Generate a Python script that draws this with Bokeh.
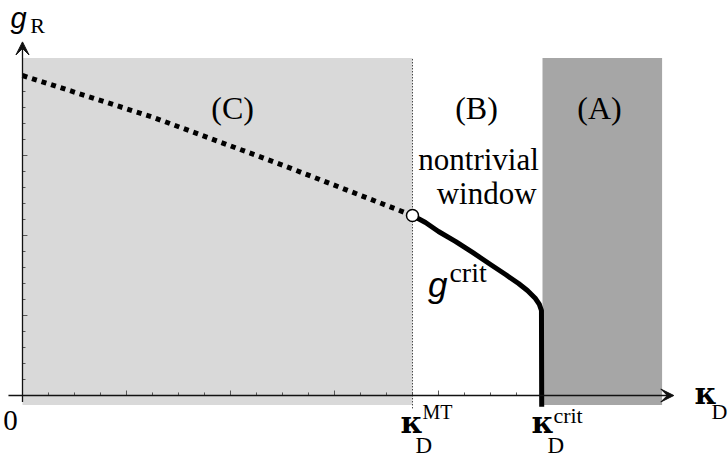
from bokeh.plotting import figure
from bokeh.models import Range1d, Label, Arrow, VeeHead
from bokeh.embed import file_html
from bokeh.resources import INLINE

# ---- data (chart units: x = kappa_D, y = g_R) ----
kappa_MT = 15.0
kappa_crit = 20.0
kappa_A_end = 24.6
region_bottom = -0.6
region_top = 21.1

# dotted (unstable/trivial) branch, region C
dotted_x = [0.0, 5.0, 10.0, 15.0]
dotted_y = [20.0, 17.4, 14.4, 11.25]

# g_crit solid branch, region B, ending in a vertical drop at kappa_crit
crit_x = [15.0, 15.5, 16.0, 16.65, 17.31, 18.0, 18.58, 19.08, 19.42, 19.73, 19.88, 19.96, 19.97]
crit_y = [11.25, 10.81, 10.25, 9.63, 8.94, 8.19, 7.56, 7.0, 6.56, 6.06, 5.69, 5.31, -0.7]

x_minor_ticks = list(range(1, 20))
x_major_every = 4
y_minor_ticks = list(range(1, 21))
y_major_every = 5

p = figure(width=728, height=461,
           x_range=Range1d(-0.846, 27.154), y_range=Range1d(-4.125, 24.6875),
           output_backend="svg", toolbar_location=None, min_border=0,
           x_axis_location=None, y_axis_location=None)
p.grid.visible = False
p.outline_line_color = None
p.background_fill_color = "white"

# shaded regions
p.quad(left=[0.0], right=[kappa_MT], bottom=[region_bottom], top=[region_top],
       fill_color="#d9d9d9", line_color=None)
p.quad(left=[kappa_crit], right=[kappa_A_end], bottom=[region_bottom], top=[region_top],
       fill_color="#a6a6a6", line_color=None)

# kappa_MT dotted vertical line
p.segment(x0=[kappa_MT], y0=[-0.8], x1=[kappa_MT], y1=[region_top],
          line_color="black", line_width=1, line_dash="1 2")

# ticks
xt_len = [0.31 if t % x_major_every == 0 else 0.19 for t in x_minor_ticks]
p.segment(x0=x_minor_ticks, y0=[0] * len(x_minor_ticks), x1=x_minor_ticks, y1=xt_len,
          line_color="#555555", line_width=1)
yt_len = [0.19 if t % y_major_every == 0 else 0.115 for t in y_minor_ticks]
p.segment(x0=[0] * len(y_minor_ticks), y0=y_minor_ticks, x1=yt_len, y1=y_minor_ticks,
          line_color="#555555", line_width=1)

# axes with arrows
p.add_layout(Arrow(x_start=-0.54, y_start=0, x_end=25.05, y_end=0,
                   line_color="#111111", line_width=1.3,
                   end=VeeHead(size=13, fill_color="#111111", line_color="#111111", line_width=1)))
p.add_layout(Arrow(x_start=0, y_start=-0.4, x_end=0, y_end=22.1,
                   line_color="#111111", line_width=1.3,
                   end=VeeHead(size=13, fill_color="#111111", line_color="#111111", line_width=1)))

# curves
p.line(dotted_x, dotted_y, line_color="black", line_width=5, line_dash="5 5", line_cap="butt")
p.line(crit_x, crit_y, line_color="black", line_width=5, line_join="round")
p.scatter([kappa_MT], [dotted_y[-1]], size=12, marker="circle",
          fill_color="white", line_color="black", line_width=1.5)

SERIF = "Liberation Serif"
SANS = "Liberation Sans"
KAPPA_FONT = "DejaVu Serif"
DY = 0.75  # baseline correction


def lab(x, y, t, size, font=SERIF, style="normal", align="left"):
    p.add_layout(Label(x=x, y=y + DY, text=t, text_font=font, text_font_size=f"{size}px",
                       text_font_style=style, text_align=align,
                       text_baseline="alphabetic", text_color="black"))


lab(8.08, 17.25, "(C)", 32, align="center")
lab(17.46, 17.25, "(B)", 32, align="center")
lab(22.19, 17.25, "(A)", 32, align="center")
lab(17.54, 14.0, "nontrivial", 31, align="center")
lab(17.85, 11.875, "window", 31, align="center")

# g^crit
lab(15.6, 6.19, "g", 35, font=SANS, style="italic")
lab(16.42, 6.94, "crit", 28)

# g_R
lab(-0.46, 22.85, "g", 29, font=SANS, style="italic")
lab(0.3, 22.35, "R", 22)

# origin
lab(-0.46, -2.31, "0", 29, align="center")

# kappa_D^MT
lab(14.54, -2.44, "κ", 30, font=KAPPA_FONT, style="bold")
lab(15.38, -1.81, "MT", 20)
lab(15.12, -3.9, "D", 23)

# kappa_D^crit
lab(19.58, -2.44, "κ", 30, font=KAPPA_FONT, style="bold")
lab(20.42, -2.0, "crit", 22)
lab(20.19, -3.9, "D", 23)

# kappa_D axis label
lab(25.85, -0.625, "κ", 30, font=KAPPA_FONT, style="bold")
lab(26.5, -1.75, "D", 22)

open("out.html", "w").write(file_html(p, INLINE))
